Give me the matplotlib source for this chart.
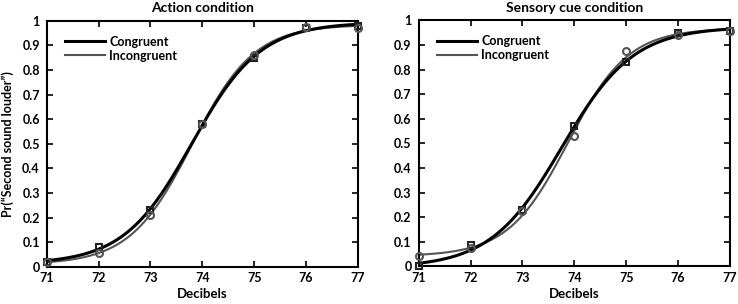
import numpy as np
import matplotlib
matplotlib.use("Agg")
import matplotlib.pyplot as plt

plt.rcParams['font.family'] = ['Lato', 'DejaVu Sans']
plt.rcParams['font.weight'] = 'bold'

decibels = [71, 72, 73, 74, 75, 76, 77]

# proportion "second sound louder"
action_congruent = [0.02, 0.08, 0.23, 0.58, 0.85, 0.97, 0.98]
action_incongruent = [0.02, 0.055, 0.21, 0.58, 0.86, 0.975, 0.97]
sensory_congruent = [0.0, 0.085, 0.23, 0.57, 0.83, 0.95, 0.955]
sensory_incongruent = [0.04, 0.075, 0.225, 0.53, 0.875, 0.94, 0.955]

panels = [
    ("Action condition", action_congruent, action_incongruent),
    ("Sensory cue condition", sensory_congruent, sensory_incongruent),
]


def fit_logistic(x, y):
    # y = a + b / (1 + exp(-(x - mu) / s)), a and b solved by least squares
    x = np.asarray(x, float)
    y = np.asarray(y, float)
    best = None
    for mu in np.linspace(72.5, 75.5, 151):
        for s in np.linspace(0.2, 1.5, 131):
            f = 1 / (1 + np.exp(-(x - mu) / s))
            A = np.column_stack([np.ones_like(f), f])
            coef, *_ = np.linalg.lstsq(A, y, rcond=None)
            err = np.sum((A @ coef - y) ** 2)
            if best is None or err < best[0]:
                best = (err, mu, s, coef)
    _, mu, s, (a, b) = best
    return lambda t: a + b / (1 + np.exp(-(t - mu) / s))


fig = plt.figure(figsize=(7.38, 3.04), dpi=100)
positions = [[0.0633, 0.1227, 0.4218, 0.809], [0.5673, 0.1240, 0.4218, 0.809]]
xs = np.linspace(71, 77, 300)

for i, (title, cong, incong) in enumerate(panels):
    ax = fig.add_axes(positions[i])
    fc = fit_logistic(decibels, cong)
    fi = fit_logistic(decibels, incong)
    ax.plot(xs, fc(xs), color='black', lw=2.2, label='Congruent', zorder=3)
    ax.plot(xs, fi(xs), color='#555555', lw=1.5, label='Incongruent', zorder=2)
    ax.plot(decibels, cong, ls='none', marker='s', ms=5, mfc='none',
            mec='#222222', mew=1.5, zorder=4, clip_on=False)
    ax.plot(decibels, incong, ls='none', marker='o', ms=5, mfc='none',
            mec='#555555', mew=1.5, zorder=4, clip_on=False)

    ax.set_xlim(71, 77)
    ax.set_ylim(0, 1)
    ax.set_xticks(decibels)
    ax.set_yticks(np.arange(0, 1.01, 0.1))
    ax.set_yticklabels(['0'] + ['%.1f' % v for v in np.arange(0.1, 0.95, 0.1)] + ['1'])
    ax.tick_params(axis='x', pad=4)
    ax.tick_params(direction='in', length=4, width=1.2, top=True, right=True,
                   labelsize=9)
    ax.tick_params(axis='y', pad=5)
    for sp in ax.spines.values():
        sp.set_linewidth(1.5)
    ax.set_title(title, fontsize=10, fontweight='bold', pad=6)
    ax.set_xlabel('Decibels', fontsize=9.5, fontweight='bold', labelpad=3)
    if i == 0:
        ax.set_ylabel('Pr(\u201cSecond sound louder\u201d)', fontsize=9,
                      fontweight='bold', labelpad=6)
    ax.legend(loc='upper left', frameon=False, fontsize=9, handlelength=3.2,
              handletextpad=0.3, labelspacing=0.15, borderaxespad=0.6,
              bbox_to_anchor=(0.02, 0.99))

fig.savefig('out.png', dpi=100)
